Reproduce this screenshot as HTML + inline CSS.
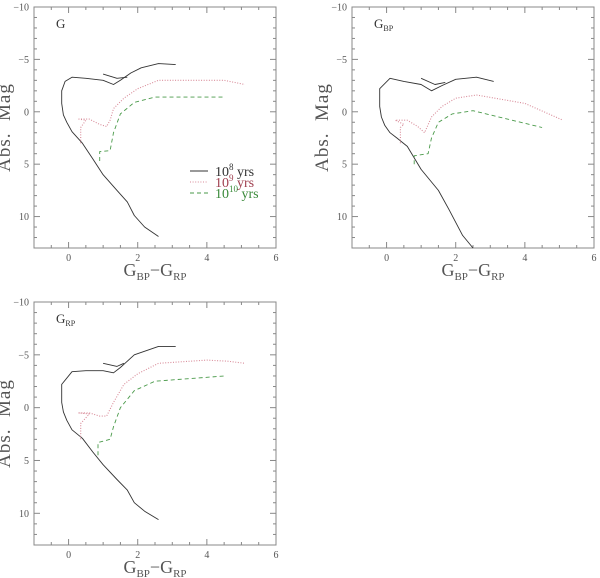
<!DOCTYPE html>
<html><head><meta charset="utf-8">
<style>
html,body{margin:0;padding:0;background:#fff;}
svg{display:block;font-family:"Liberation Serif",serif;}
</style></head>
<body>
<svg id="chart" width="600" height="578" viewBox="0 0 600 578"></svg>
<script>
// ---- data (x = G_BP - G_RP, y = absolute magnitude) ----
const panelNames = ["G", "BP", "RP"];
const xTicks = [0, 2, 4, 6];
const yTicks = [-10, -5, 0, 5, 10];
const legendLabels = ["8", "9", "10"];

const gAge8X = [2.6,2.2,1.9,1.7,1.4,1.0,0.7,0.4,0.1,-0.05,-0.15,-0.2,-0.2,-0.1,0.1,0.5,1.0,1.3,1.5,1.8,2.1,2.6,3.1];
const gAge8Y = [11.9,11.0,9.9,8.6,7.5,6.0,4.5,3.0,1.9,1.0,0.3,-0.8,-2.0,-2.9,-3.3,-3.2,-3.0,-2.6,-3.0,-3.7,-4.2,-4.6,-4.5];
const gLoopX = [1.0,1.4,1.7];
const gLoopY = [-3.6,-3.2,-3.3];
const gAge9X = [0.35,0.35,0.5,0.3,0.6,0.9,1.1,1.2,1.3,1.6,2.0,2.6,4.5,5.1];
const gAge9Y = [3.0,1.5,0.8,0.7,0.7,1.2,1.4,0.8,-0.3,-1.3,-2.2,-3.0,-3.0,-2.6];
const gAge10X = [0.9,0.9,1.2,1.3,1.5,1.9,2.5,4.5];
const gAge10Y = [4.7,3.8,3.7,2.0,0.2,-0.9,-1.4,-1.4];

const bpAge8X = [2.5,2.2,1.8,1.5,1.0,0.6,0.3,0.1,-0.05,-0.15,-0.2,-0.2,0.1,0.5,1.0,1.3,1.6,2.0,2.6,3.1];
const bpAge8Y = [13,11.8,9.3,7.5,5.5,3.3,2.5,2.0,1.3,0.5,-0.5,-2.2,-3.2,-2.9,-2.6,-2.0,-2.5,-3.1,-3.3,-2.9];
const bpLoopX = [1.0,1.4,1.7];
const bpLoopY = [-3.2,-2.6,-2.8];
const bpAge9X = [0.4,0.4,0.5,0.25,0.6,0.9,1.1,1.3,1.6,2.0,2.6,4.0,5.1];
const bpAge9Y = [3.0,1.5,1.2,0.8,0.8,1.4,2.0,0.5,-0.5,-1.3,-1.6,-0.8,0.8];
const bpAge10X = [0.8,0.8,1.2,1.3,1.5,1.9,2.5,4.5];
const bpAge10Y = [5.0,4.2,4.0,2.5,1.0,0.2,-0.1,1.5];

const rpAge8X = [2.6,2.2,1.9,1.7,1.4,1.0,0.7,0.4,0.1,-0.05,-0.15,-0.2,-0.2,0.1,0.5,1.0,1.3,1.5,1.9,2.6,3.1];
const rpAge8Y = [10.6,9.8,9.0,7.8,6.8,5.4,4.2,2.9,2.1,1.2,0.4,-0.5,-2.2,-3.4,-3.5,-3.5,-3.3,-3.8,-5.0,-5.8,-5.8];
const rpLoopX = [1.0,1.4,1.6];
const rpLoopY = [-4.2,-3.9,-4.2];
const rpAge9X = [0.35,0.35,0.6,0.3,0.6,0.9,1.1,1.3,1.6,2.0,2.6,4.0,4.6,5.1];
const rpAge9Y = [3.0,1.5,0.6,0.5,0.5,0.8,0.8,-0.5,-2.2,-3.2,-4.2,-4.5,-4.4,-4.2];
const rpAge10X = [0.85,0.85,1.2,1.3,1.5,1.9,2.5,4.5];
const rpAge10Y = [4.5,3.3,3.0,1.8,0.0,-1.6,-2.5,-3.0];

// ---- drawing ----
const NS = "http://www.w3.org/2000/svg";
const svg = document.getElementById("chart");
function mk(tag, attrs, parent) {
  const e = document.createElementNS(NS, tag);
  for (const k in attrs) e.setAttribute(k, attrs[k]);
  (parent || svg).appendChild(e);
  return e;
}
const boxes = [
  {left:34, top:7, right:276, bottom:248},
  {left:352, top:7, right:594, bottom:248},
  {left:34, top:302, right:276, bottom:545}
];
const series = [
  [[gAge8X,gAge8Y],[gLoopX,gLoopY],[gAge9X,gAge9Y],[gAge10X,gAge10Y]],
  [[bpAge8X,bpAge8Y],[bpLoopX,bpLoopY],[bpAge9X,bpAge9Y],[bpAge10X,bpAge10Y]],
  [[rpAge8X,rpAge8Y],[rpLoopX,rpLoopY],[rpAge9X,rpAge9Y],[rpAge10X,rpAge10Y]]
];
const styles = [
  {stroke:"#333", dash:"", w:0.9},
  {stroke:"#333", dash:"", w:0.9},
  {stroke:"#d88a98", dash:"1 1.6", w:1.1},
  {stroke:"#4a9a4a", dash:"4 3", w:0.9}
];
const seriesNames = ["isochrone-1e8-yrs","isochrone-1e8-loop","isochrone-1e9-yrs","isochrone-1e10-yrs"];

boxes.forEach((b, pi) => {
  const g = mk("g", {});
  
  
  const sx = v => b.left + (v + 1) / 7 * (b.right - b.left);
  const sy = v => b.top + (v + 10) / 23 * (b.bottom - b.top);
  const frame = mk("rect", {x:b.left, y:b.top, width:b.right-b.left, height:b.bottom-b.top, fill:"none", stroke:"#888", "stroke-width":1}, g);
  
  
  for (let v = -1; v <= 6.001; v += 0.5) {
    const major = Math.abs(v - Math.round(v/2)*2) < 1e-6;
    const L = major ? 6 : 3;
    mk("line", {x1:sx(v), x2:sx(v), y1:b.bottom, y2:b.bottom-L, stroke:"#888"}, g);
    mk("line", {x1:sx(v), x2:sx(v), y1:b.top, y2:b.top+L, stroke:"#888"}, g);
  }
  for (let v = -10; v <= 13; v += 1) {
    const L = v % 5 === 0 ? 6 : 3;
    mk("line", {x1:b.left, x2:b.left+L, y1:sy(v), y2:sy(v), stroke:"#888"}, g);
    mk("line", {x1:b.right, x2:b.right-L, y1:sy(v), y2:sy(v), stroke:"#888"}, g);
  }
  xTicks.forEach(v => {
    const t = mk("text", {x:sx(v), y:b.bottom+13, "font-size":10, fill:"#555", "text-anchor":"middle"}, g);
    t.textContent = String(v);
    
    
  });
  yTicks.forEach(v => {
    const t = mk("text", {x:b.left-5, y:sy(v)+3.5, "font-size":10, fill:"#555", "text-anchor":"end"}, g);
    t.textContent = v < 0 ? "\u2212" + Math.abs(v) : String(v);
    
    
  });
  const cx = (b.left + b.right) / 2, cy = (b.top + b.bottom) / 2;
  const yt = mk("text", {x:0, y:0, "font-size":19, fill:"#555", "text-anchor":"middle", "letter-spacing":"1", transform:`translate(${b.left-24},${cy}) rotate(-90)`}, g);
  yt.textContent = "Abs.\u00a0 Mag";
  
  
  const xt = mk("text", {x:cx, y:b.bottom+28, "font-size":18, fill:"#555", "text-anchor":"middle"}, g);
  xt.innerHTML = 'G<tspan font-size="11" dy="4">BP</tspan><tspan dy="-4">\u2212G</tspan><tspan font-size="11" dy="4">RP</tspan>';
  
  
  const pl = mk("text", {x:b.left+22, y:b.top+21, "font-size":13, fill:"#333"}, g);
  pl.innerHTML = pi === 0 ? "G" : 'G<tspan font-size="8" dy="3">' + panelNames[pi] + '</tspan>';
  
  
  series[pi].forEach((s, si) => {
    const pts = s[0].map((x, i) => sx(x).toFixed(1) + "," + sy(s[1][i]).toFixed(1)).join(" ");
    const st = styles[si];
    const p = mk("polyline", {points:pts, fill:"none", stroke:st.stroke, "stroke-width":st.w, "stroke-dasharray":st.dash, "stroke-linejoin":"round"}, g);
    
    
  });
  if (pi === 0) {
    const lg = mk("g", {}, g);
    
    
    const colors = ["#333", "#a04050", "#3a8a3a"];
    [0, 2, 3].forEach((si, k) => {
      const y = 171 + k * 11;
      const st = styles[si];
      mk("line", {x1:190, x2:208, y1:y, y2:y, stroke:st.stroke, "stroke-width":st.w, "stroke-dasharray":st.dash}, lg);
      const t = mk("text", {x:215, y:y+5, "font-size":14, fill:colors[k]}, lg);
      t.innerHTML = '10<tspan font-size="9" dy="-6">' + legendLabels[k] + '</tspan><tspan dy="6"> yrs</tspan>';
      
      
    });
  }
});
</script>
</body></html>
